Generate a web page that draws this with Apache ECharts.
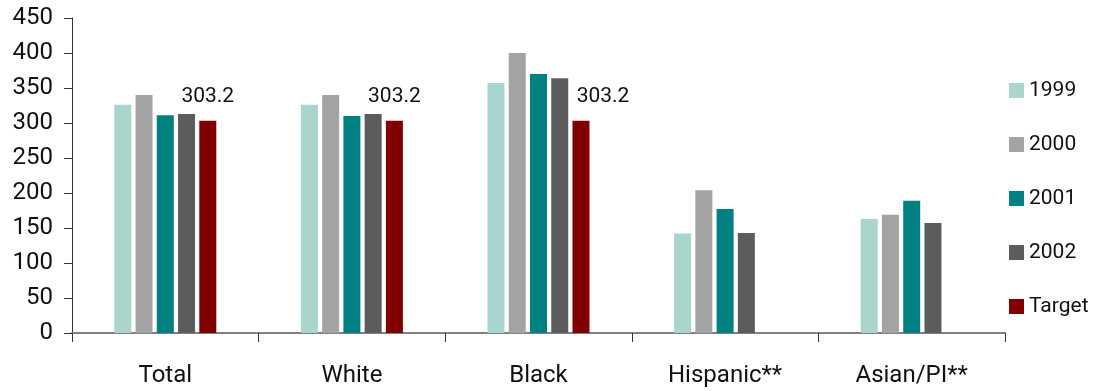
<!DOCTYPE html>
<html>
<head>
<meta charset="utf-8">
<script src="https://cdn.jsdelivr.net/npm/echarts@6/dist/echarts.min.js"></script>
<style>
html,body{margin:0;padding:0;background:#fff;}
#chart{width:1104px;height:391px;}
</style>
</head>
<body>
<div id="chart"></div>
<script>
const categories = ['Total', 'White', 'Black', 'Hispanic**', 'Asian/PI**'];
const seriesNames = ['1999', '2000', '2001', '2002', 'Target'];
const v1999 = [326, 326, 357, 142, 163];
const v2000 = [340, 340, 400, 204, 169];
const v2001 = [311, 310, 370, 177, 189];
const v2002 = [313, 313, 364, 143, 157];
const vTarget = [303.2, 303.2, 303.2, null, null];
const yTicks = [0, 50, 100, 150, 200, 250, 300, 350, 400, 450];

const colors = ['#a9d5cc', '#a3a3a3', '#008080', '#5c5c5c', '#800000'];
const FONT = 'Roboto';
const allValues = [v1999, v2000, v2001, v2002, vTarget];

const series = seriesNames.map((name, i) => ({
  name: name,
  type: 'bar',
  barWidth: 17,
  barGap: '25%',
  itemStyle: { color: colors[i] },
  emphasis: { disabled: true },
  data: allValues[i].map((v, j) => {
    if (v === null) return '-';
    if (i === 4) {
      return {
        value: v,
        label: {
          show: true,
          position: 'top',
          distance: 14,
          offset: j === 2 ? [22, 0] : [0, 0],
          formatter: (p) => p.value.toFixed(1),
          fontFamily: FONT,
          fontSize: 21,
          lineHeight: 21,
          color: '#111'
        }
      };
    }
    return v;
  })
}));

const chart = echarts.init(document.getElementById('chart'), null, { renderer: 'canvas' });
chart.setOption({
  animation: false,
  backgroundColor: '#ffffff',
  grid: { left: 72, right: 99, top: 18, bottom: 58, containLabel: false },
  legend: {
    orient: 'vertical',
    left: 1004,
    top: 75,
    itemWidth: 15,
    itemHeight: 15,
    itemGap: 33,
    icon: 'rect',
    selectedMode: false,
    data: seriesNames,
    textStyle: { fontFamily: FONT, fontSize: 21, color: '#111' }
  },
  xAxis: {
    type: 'category',
    data: categories,
    boundaryGap: true,
    axisLine: { show: true, lineStyle: { color: '#808080', width: 2 } },
    axisTick: { show: true, inside: false, length: 9, lineStyle: { color: '#333', width: 1 }, alignWithLabel: false },
    axisLabel: { fontFamily: FONT, fontSize: 24, lineHeight: 24, color: '#111', margin: 31, interval: 0 },
    splitLine: { show: false }
  },
  yAxis: {
    type: 'value',
    min: 0,
    max: 450,
    interval: 50,
    axisLine: { show: true, lineStyle: { color: '#333', width: 1 } },
    axisTick: { show: true, inside: false, length: 8, lineStyle: { color: '#333', width: 1 } },
    axisLabel: {
      fontFamily: FONT, fontSize: 24, color: '#111', margin: 19,
      formatter: (v) => (yTicks.indexOf(v) >= 0 ? String(v) : '')
    },
    splitLine: { show: false }
  },
  series: series
});
</script>
</body>
</html>
